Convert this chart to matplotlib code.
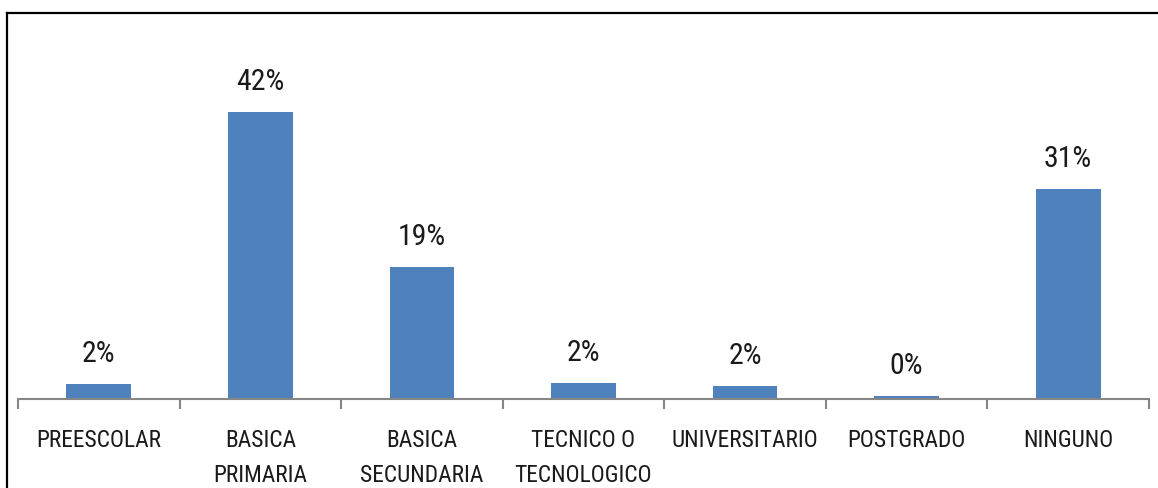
import matplotlib.pyplot as plt
from matplotlib.lines import Line2D
from matplotlib import font_manager as fm
import numpy as np

# Nivel educativo
categorias = ['PREESCOLAR', 'BASICA\nPRIMARIA', 'BASICA\nSECUNDARIA', 'TECNICO O\nTECNOLOGICO',
              'UNIVERSITARIO', 'POSTGRADO', 'NINGUNO']
porcentajes = [2.2, 42.0, 19.3, 2.3, 1.9, 0.4, 30.7]

azul = '#4F81BD'
gris = '#868686'
texto = '#1a1a1a'

# fuente estrecha parecida a Calibri
nombres = {f.name for f in fm.fontManager.ttflist}
fuente = 'Liberation Sans'
for cand in ['Liberation Sans Narrow', 'Roboto Condensed', 'Open Sans Condensed']:
    if cand in nombres:
        fuente = cand
        break

W, H = 1158, 489
fig = plt.figure(figsize=(W / 100, H / 100), dpi=100)
ax = fig.add_axes([18 / W, 89 / H, (1149 - 18) / W, (400 - 14) / H])

x = np.arange(len(categorias))
ax.bar(x, porcentajes, width=0.4, color=azul, zorder=2)

for xi, v in zip(x, porcentajes):
    ax.annotate(f'{v:.0f}%', (xi, v), xytext=(0, 23), textcoords='offset pixels',
                ha='center', va='baseline', fontsize=21.5, color=texto, family=fuente)

ax.set_xlim(-0.5, len(categorias) - 0.5)
ax.set_ylim(0, 386 / 6.83)

for s in ['top', 'right', 'left']:
    ax.spines[s].set_visible(False)
ax.spines['bottom'].set_color(gris)
ax.spines['bottom'].set_linewidth(1.5)
ax.set_yticks([])

ax.set_xticks(x)
ax.set_xticklabels(categorias, fontsize=16.8, color=texto, family=fuente, linespacing=1.65)
ax.tick_params(axis='x', which='major', length=0, pad=21)
ax.set_xticks(np.arange(-0.5, len(categorias)), minor=True)
ax.tick_params(axis='x', which='minor', length=7, width=1.5, color=gris, direction='out')

# marco exterior (izquierda y arriba)
fig.add_artist(Line2D([7.5 / W, 7.5 / W], [0, 1 - 14 / H], color='black', lw=1.6, transform=fig.transFigure))
fig.add_artist(Line2D([7.5 / W, 1], [1 - 14 / H, 1 - 14 / H], color='black', lw=1.6, transform=fig.transFigure))

fig.savefig('out.png', dpi=100)
